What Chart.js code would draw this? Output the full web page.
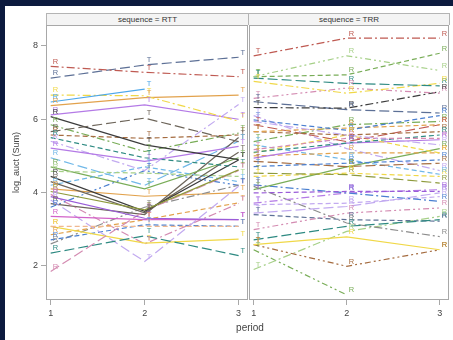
<!DOCTYPE html>
<html>
<head>
<meta charset="utf-8">
<script src="https://cdn.jsdelivr.net/npm/chart.js@4"></script>
<style>
  body { margin: 0; background: #0c1a3e; height: 340px; overflow: hidden; font-family: "Liberation Sans", Arial, sans-serif; }
  #sheet { position: absolute; left: 5px; top: 6px; width: 470px; height: 340px; background: #fff; }
  .panel { position: absolute; top: 0; height: 334px; }
  .strip { position: absolute; top: 7px; height: 11px; background: #f4f4f4; border: 1px solid #b4b4b4; border-bottom: none;
           font-size: 8px; line-height: 11px; text-align: center; color: #333; }
  #xtitle { position: absolute; left: 0; width: 490px; top: 316px; text-align: center; font-size: 10px; color: #444; }
</style>
</head>
<body>
<div id="sheet">
  <div class="panel" style="left:0; width:244px;"><canvas id="rttChart"></canvas></div>
  <div class="panel" style="left:242px; width:206px;"><canvas id="trrChart"></canvas></div>
  <div class="strip" style="left:41px; width:201px;">sequence = RTT</div>
  <div class="strip" style="left:243px; width:200px;">sequence = TRR</div>
  <div id="xtitle">period</div>
</div>
<script>
const periods = [1, 2, 3];
const yTicks = [2, 4, 6, 8];
const rttLetters = ['R', 'T', 'T'];
const trrLetters = ['T', 'R', 'R'];

// sequence RTT, one entry per subject
const rttPeriod1 = [7.44, 7.12, 6.47, 6.66, 6.37, 6.12, 5.66, 6.07, 5.57, 5.85, 5.21, 5.40, 5.50, 4.03, 4.44, 4.30, 3.89,
  3.35, 4.58, 3.08, 1.85, 2.35, 3.08, 3.80, 2.71, 2.85, 2.60, 4.20, 4.70, 3.95, 3.70, 4.95, 4.10, 3.60];
const rttPeriod2 = [7.28, 7.48, 6.82, 6.64, 6.59, 6.39, 6.03, 5.30, 5.48, 5.12, 4.85, 4.60, 4.95, 3.53, 3.49, 3.45, 3.30,
  3.26, 4.53, 3.08, 3.50, 2.82, 2.62, 2.12, 3.12, 3.26, 3.60, 4.70, 4.10, 2.60, 3.40, 4.20, 3.90, 4.60];
const rttPeriod3 = [7.16, 7.69, null, 5.95, 6.66, 6.00, 5.39, 4.90, 5.57, 5.62, 5.26, 6.40, 4.70, 4.62, 4.89, 5.10, 3.26,
  3.26, 4.44, 3.08, 4.60, 2.28, 2.73, 4.17, 3.08, 3.72, 4.20, 4.30, 4.95, 3.70, 5.50, 5.40, 4.00, 4.20];

// sequence TRR
const trrPeriod1 = [7.73, 7.16, 7.16, 7.12, 7.03, 6.57, 6.32, 6.48, 5.98, 5.94, 5.66, 5.66, 5.39, 5.85, 5.17, 5.10, 5.08,
  4.94, 5.00, 4.71, 4.85, 4.53, 4.44, 4.08, 3.99, 4.21, 3.67, 3.71, 3.44, 2.99, 2.71, 3.40, 4.17, 2.58, 2.58, 1.90, 2.44,
  6.10, 5.30];
const trrPeriod2 = [8.21, 7.73, 7.21, 6.98, 6.71, 6.85, 6.30, 6.26, 5.70, 5.57, 5.76, 5.57, 5.85, 5.39, 5.48, 5.35, 5.57,
  5.35, 5.08, 4.80, 4.71, 4.49, 4.53, 4.70, 4.03, 3.99, 3.71, 3.99, 3.62, 3.44, 3.08, 3.26, 3.17, 2.79, 1.99, 2.94, 1.21,
  5.20, 4.90];
const trrPeriod3 = [8.21, 7.33, 7.80, 6.91, 6.98, 6.71, 6.75, 6.17, 6.10, 5.30, 5.85, 5.66, 5.94, 5.85, 5.48, 5.57, 5.08,
  5.44, 5.08, 4.89, 4.80, 4.26, 4.44, 5.20, 4.03, 3.76, 3.89, 4.08, 3.99, 3.58, 3.26, 3.22, 2.80, 2.44, 2.44, 3.35, null,
  4.60, 4.50];

const palette = {
  red: '#bf5a52', bluegray: '#5d7096', lightblue: '#4ea8ea', yellow: '#f0d848', orange: '#e2a24c',
  violet: '#b47ae6', darkgray: '#6d655a', black: '#3c3c3c', brown: '#a56c40', green: '#79ad58',
  lavender: '#c2aaf0', teal: '#2e8a82', olive: '#8e9a3c', pink: '#d48cb2', magenta: '#d262c8',
  lightgreen: '#a6d088', peach: '#f0b890', sky: '#70b8e8', gray: '#8c8c8c', blue: '#4a7fd0', purple: '#9a5cd8'
};
const dashes = {
  solid: [], dash: [5, 3], longdash: [10, 4], dashdot: [8, 3, 2, 3], dashdotdot: [6, 3, 2, 3, 2, 3]
};

const rttColors = ['red', 'bluegray', 'lightblue', 'yellow', 'orange', 'violet', 'darkgray', 'black', 'brown', 'green',
  'violet', 'lavender', 'teal', 'olive', 'black', 'darkgray', 'purple', 'magenta', 'lightgreen', 'peach', 'pink', 'teal',
  'yellow', 'lavender', 'blue', 'orange', 'gray', 'sky', 'green', 'pink', 'darkgray', 'sky', 'orange', 'blue'];
const rttDashes = ['dashdot', 'longdash', 'solid', 'dashdot', 'solid', 'solid', 'longdash', 'solid', 'dash', 'dashdot',
  'solid', 'dashdot', 'dash', 'solid', 'solid', 'solid', 'solid', 'solid', 'dash', 'dash', 'longdash', 'longdash',
  'solid', 'longdash', 'dash', 'dash', 'dashdot', 'dash', 'solid', 'dashdot', 'solid', 'longdash', 'solid', 'dashdotdot'];
const trrColors = ['red', 'lightgreen', 'green', 'teal', 'yellow', 'pink', 'black', 'bluegray', 'blue', 'lavender', 'orange',
  'brown', 'green', 'red', 'pink', 'teal', 'yellow', 'violet', 'orange', 'blue', 'brown', 'olive', 'yellow', 'green',
  'purple', 'blue', 'lavender', 'violet', 'lavender', 'pink', 'teal', 'bluegray', 'gray', 'yellow', 'brown', 'lightgreen',
  'green', 'lavender', 'sky'];
const trrDashes = ['dashdot', 'dashdotdot', 'dash', 'longdash', 'dashdot', 'dashdotdot', 'dashdot', 'longdash', 'dash',
  'dashdot', 'dash', 'dash', 'dashdot', 'longdash', 'dash', 'dash', 'dash', 'solid', 'dash', 'dash', 'longdash', 'longdash',
  'dash', 'solid', 'dash', 'dashdot', 'dash', 'dashdot', 'longdash', 'dashdotdot', 'longdash', 'dash', 'dashdot', 'solid',
  'dashdotdot', 'dashdot', 'dashdotdot', 'dashdot', 'dash'];

function buildDatasets(p1, p2, p3, colors, dashNames) {
  return p1.map((v, i) => ({
    data: [p1[i], p2[i], p3[i]].map((y, k) => ({ x: periods[k], y: y })),
    borderColor: palette[colors[i]],
    borderDash: dashes[dashNames[i]],
    borderWidth: 1.2,
    pointRadius: 0,
    tension: 0,
    spanGaps: false,
    fill: false
  }));
}

// R / T markers next to each observation, plus the panel frame
const markerPlugin = {
  id: 'markers',
  afterDatasetsDraw(chart, args, opts) {
    const ctx = chart.ctx;
    ctx.save();
    ctx.font = '7.5px "Liberation Sans", Arial, sans-serif';
    ctx.textAlign = 'left';
    ctx.textBaseline = 'bottom';
    chart.data.datasets.forEach((ds, i) => {
      const meta = chart.getDatasetMeta(i);
      meta.data.forEach((pt, k) => {
        if (ds.data[k].y == null) return;
        ctx.fillStyle = ds.borderColor;
        ctx.fillText(opts.letters[k], pt.x + 2, pt.y - 1);
      });
    });
    const a = chart.chartArea;
    ctx.strokeStyle = '#a8a8a8';
    ctx.lineWidth = 1;
    ctx.strokeRect(Math.round(a.left) + 0.5, Math.round(a.top) + 0.5,
      Math.round(a.right - a.left) - 1, Math.round(a.bottom - a.top) - 1);
    ctx.restore();
  }
};

const tickFont = { family: '"Liberation Sans", Arial, sans-serif', size: 9 };

function makeChart(id, datasets, letters, showY, padding) {
  return new Chart(document.getElementById(id), {
    type: 'line',
    data: { datasets: datasets },
    plugins: [markerPlugin],
    options: {
      responsive: true,
      maintainAspectRatio: false,
      animation: false,
      layout: { padding: padding },
      scales: {
        x: {
          type: 'linear',
          min: 0.95,
          max: 3.1,
          afterBuildTicks: (scale) => { scale.ticks = periods.map(v => ({ value: v })); },
          afterFit: (scale) => { scale.height = 40; },
          grid: { drawOnChartArea: false, drawTicks: true, tickLength: 5, color: '#a8a8a8' },
          border: { display: false },
          ticks: { color: '#444', font: tickFont, padding: 3, maxRotation: 0, autoSkip: false }
        },
        y: {
          display: showY,
          min: 1.07,
          max: 8.57,
          afterBuildTicks: (scale) => { scale.ticks = yTicks.map(v => ({ value: v })); },
          afterFit: (scale) => { scale.width = showY ? 41 : 0; },
          grid: { drawOnChartArea: false, drawTicks: true, tickLength: 5, color: '#a8a8a8' },
          border: { display: false },
          ticks: { color: '#444', font: tickFont, padding: 3 },
          title: { display: true, text: 'log_auct (Sum)', color: '#444',
                   font: { family: '"Liberation Sans", Arial, sans-serif', size: 9 }, padding: { top: 6, bottom: 0 } }
        }
      },
      plugins: {
        legend: { display: false },
        tooltip: { enabled: false },
        markers: { letters: letters }
      }
    }
  });
}

makeChart('rttChart', buildDatasets(rttPeriod1, rttPeriod2, rttPeriod3, rttColors, rttDashes), rttLetters, true,
  { top: 19, right: 1, left: 0, bottom: 0 });
makeChart('trrChart', buildDatasets(trrPeriod1, trrPeriod2, trrPeriod3, trrColors, trrDashes), trrLetters, false,
  { top: 19, right: 4, left: 2, bottom: 0 });
</script>
</body>
</html>
